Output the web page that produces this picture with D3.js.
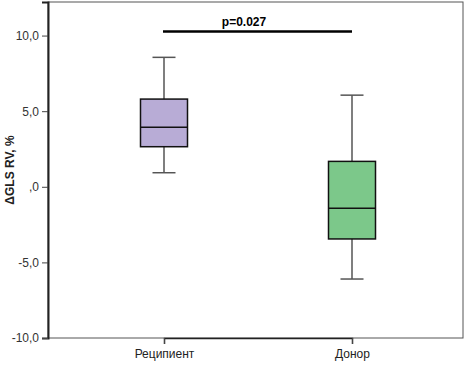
<!DOCTYPE html>
<html>
<head>
<meta charset="utf-8">
<script src="https://cdn.jsdelivr.net/npm/d3@7"></script>
<style>
body { margin:0; background:#fff; }
svg { font-family: Arial, "Liberation Sans", sans-serif; }
</style>
</head>
<body>
<svg></svg>
<script>
var groups = ["Реципиент", "Донор"]
var whiskerLow = [0.93, -6.1]
var q1 = [2.65, -3.45]
var medians = [3.93, -1.42]
var q3 = [5.8, 1.68]
var whiskerHigh = [8.56, 6.06]
var colors = ["#b8acd6", "#7cc88a"]
var yTicks = [-10, -5, 0, 5, 10]
var pLabel = "p=0.027"

var screen = {width:469,height:365}
var margins = {top:2,right:6,bottom:27,left:48}

var width = screen.width - margins.left - margins.right
var height = screen.height - margins.top - margins.bottom

var svg = d3.select("svg")
    .attr("width",screen.width)
    .attr("height",screen.height)

var graph = svg.append("g")
    .attr("transform","translate("+margins.left+","+margins.top+")")

var xScale = d3.scalePoint().domain(groups).range([116, 304])
var yScale = d3.scaleLinear().domain([-10,12.22]).range([height,0])

// frame
graph.append("rect")
    .attr("x",0).attr("y",0)
    .attr("width",width).attr("height",height)
    .attr("fill","none")
    .attr("stroke","#555")
    .attr("stroke-width",1)

var yAxis = d3.axisLeft(yScale)
    .tickValues(yTicks)
    .tickSize(6)
    .tickFormat(function(d){ return d == 0 ? ",0" : d.toFixed(1).replace(".",",") })

var ya = graph.append("g").call(yAxis)
ya.select(".domain").attr("stroke","#222").attr("stroke-width",2)
ya.selectAll(".tick line").attr("stroke","#444")
ya.selectAll(".tick text").attr("font-size",12).attr("fill","#333").attr("x",-9)

var xAxis = d3.axisBottom(xScale).tickSize(6).tickPadding(5)
var xa = graph.append("g")
    .attr("transform","translate(0,"+height+")")
    .call(xAxis)
xa.select(".domain").attr("stroke","#222").attr("stroke-width",1.5)
xa.selectAll(".tick line").attr("stroke","#444")
xa.selectAll(".tick text").attr("font-size",12).attr("fill","#222")

var boxW = 47
var capW = 23

var boxes = graph.selectAll(".box")
    .data(groups)
    .enter()
    .append("g")
    .attr("class","box")

boxes.append("line")
    .attr("x1",function(d){ return xScale(d) })
    .attr("x2",function(d){ return xScale(d) })
    .attr("y1",function(d,i){ return yScale(whiskerHigh[i]) })
    .attr("y2",function(d,i){ return yScale(whiskerLow[i]) })
    .attr("stroke","#555")
    .attr("stroke-width",1.5)

boxes.selectAll(".cap")
    .data(function(d,i){ return [[d,whiskerLow[i]],[d,whiskerHigh[i]]] })
    .enter()
    .append("line")
    .attr("x1",function(c){ return xScale(c[0]) - capW/2 })
    .attr("x2",function(c){ return xScale(c[0]) + capW/2 })
    .attr("y1",function(c){ return yScale(c[1]) })
    .attr("y2",function(c){ return yScale(c[1]) })
    .attr("stroke","#555")
    .attr("stroke-width",1.5)

boxes.append("rect")
    .attr("x",function(d){ return xScale(d) - boxW/2 })
    .attr("y",function(d,i){ return yScale(q3[i]) })
    .attr("width",boxW)
    .attr("height",function(d,i){ return yScale(q1[i]) - yScale(q3[i]) })
    .attr("fill",function(d,i){ return colors[i] })
    .attr("stroke","#111")
    .attr("stroke-width",1.5)

boxes.append("line")
    .attr("x1",function(d){ return xScale(d) - boxW/2 })
    .attr("x2",function(d){ return xScale(d) + boxW/2 })
    .attr("y1",function(d,i){ return yScale(medians[i]) })
    .attr("y2",function(d,i){ return yScale(medians[i]) })
    .attr("stroke","#111")
    .attr("stroke-width",1.5)

// significance bar
var barY = 31.5 - margins.top
graph.append("line")
    .attr("x1",xScale(groups[0]) - 1)
    .attr("x2",xScale(groups[1]))
    .attr("y1",barY).attr("y2",barY)
    .attr("stroke","#000")
    .attr("stroke-width",2.5)

graph.append("text")
    .attr("x",(xScale(groups[0]) + xScale(groups[1]))/2 - 14)
    .attr("y",barY - 6)
    .attr("text-anchor","middle")
    .attr("font-size",12)
    .attr("font-weight","bold")
    .text(pLabel)

// y label
svg.append("text")
    .attr("transform","translate(14,"+(margins.top+height/2)+") rotate(-90)")
    .attr("text-anchor","middle")
    .attr("font-size",12)
    .attr("font-weight","bold")
    .attr("fill","#222")
    .text("ΔGLS RV, %")
</script>
</body>
</html>
